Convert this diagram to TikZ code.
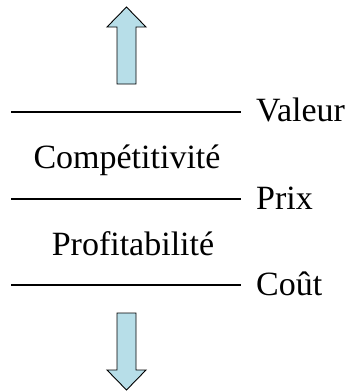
\documentclass[tikz,border=0pt]{standalone}
\usepackage{fontspec}
\setmainfont{Liberation Serif}
\usetikzlibrary{positioning}

\begin{document}
\begin{tikzpicture}
  [x=1pt, y=-1pt,
    niveau/.style={line width=1.3pt},
    lbl/.style={anchor=base west, inner sep=0pt, font=\fontsize{34}{38}\selectfont},
    zone/.style={anchor=base, inner sep=0pt, font=\fontsize{34}{38}\selectfont},
    fleche/.style={draw=black, fill=arrowblue, line width=0.9pt, line join=miter}]
  \definecolor{arrowblue}{RGB}{183,222,232}
  \useasboundingbox (0,0) rectangle (350,392);
  % niveaux
  \coordinate (v1) at (11,112);  \coordinate (v2) at (241,112);
  \coordinate (p1) at (11,199);  \coordinate (p2) at (241,199);
  \coordinate (c1) at (11,285);  \coordinate (c2) at (241,285);
  \draw[niveau] (v1) -- (v2);
  \draw[niveau] (p1) -- (p2);
  \draw[niveau] (c1) -- (c2);
  \node[lbl] (valeur) at (256,121) {Valeur};
  \node[lbl] (prix) at (256,209) {Prix};
  \node[lbl] (cout) at (256,295) {Coût};
  \node[zone] (compet) at (127,168) {Compétitivité};
  \node[zone] (profit) at (133,255) {Profitabilité};
  % fleches
  \draw[fleche] (117,84) -- (117,27) -- (107,27) -- (126.5,7) -- (146,27)
    -- (136,27) -- (136,84) -- cycle;
  \draw[fleche] (117,313) -- (117,370) -- (107,370) -- (126.5,390) -- (146,370)
    -- (136,370) -- (136,313) -- cycle;
\end{tikzpicture}
\end{document}
